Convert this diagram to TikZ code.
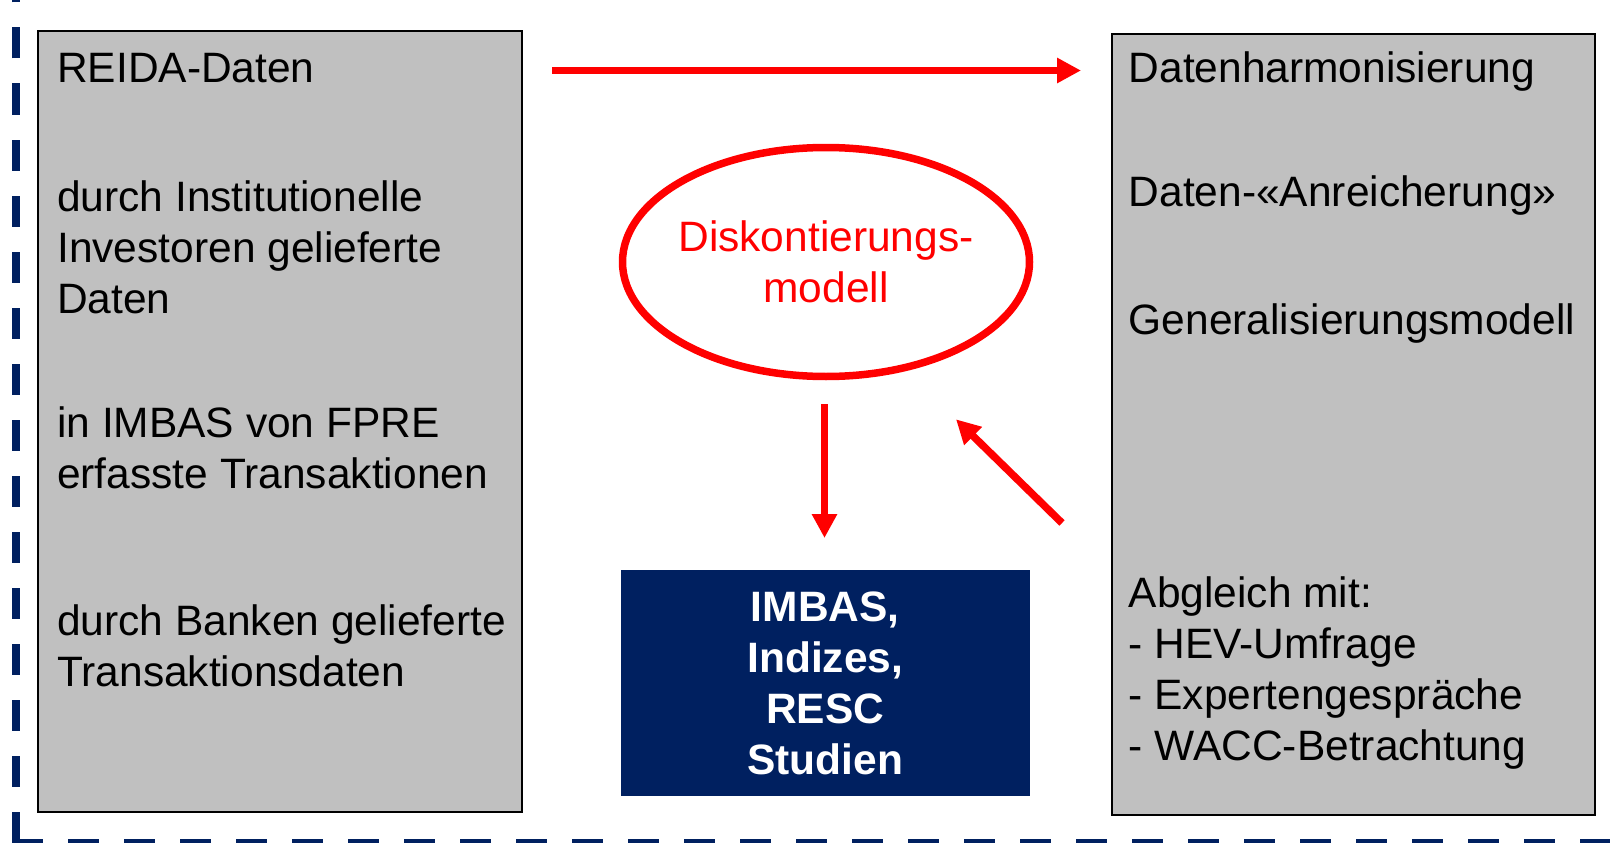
\documentclass[tikz,border=0pt]{standalone}
\usepackage{fontspec}
\setmainfont{Liberation Sans}
\usetikzlibrary{arrows.meta,shapes.geometric}
\definecolor{navy}{HTML}{002060}
\definecolor{silver}{HTML}{C0C0C0}
\tikzset{
  greybox/.style={draw=black, line width=2pt, fill=silver, inner sep=0pt,
    minimum width=483.5pt, minimum height=781pt},
  txt/.style={anchor=base west, inner sep=0pt, font=\fontsize{42.5}{51}\selectfont},
  redarrow/.style={draw=red, line width=7.5pt, -{Triangle[length=24pt,width=24pt]}},
  frame/.style={draw=navy, line width=8pt, dash pattern=on 31pt off 25pt},
}
\begin{document}
\begin{tikzpicture}[x=1pt,y=-1pt]
\useasboundingbox (0,0) rectangle (1610,843);
% dashed frame
\coordinate (corner) at (16,842.5);
\draw[frame] (corner) -- (16,-40);
\draw[frame] (12,842.5) -- (1660,842.5);
% boxes
\node[greybox] (lbox) at (279.75,421.5) {};
\node[greybox] (rbox) at (1353.25,424.5) {};
\node[fill=navy, text=white, inner sep=0pt, align=center,
  minimum width=408.5pt, minimum height=226pt,
  font=\bfseries\fontsize{42.5}{51}\selectfont] (imbas) at (825.25,683) {IMBAS,\\Indizes,\\RESC\\Studien};
\node[ellipse, draw=red, line width=7.5pt, text=red, align=center,
  minimum width=407pt, minimum height=229pt, inner xsep=-10pt, inner ysep=0pt,
  font=\fontsize{42.5}{51}\selectfont] (disc) at (826,262) {Diskontierungs-\\modell};
% left texts
\node[txt] (reida) at (57,83) {REIDA-Daten};
\node[txt] (inst1) at (57,211) {durch Institutionelle};
\node[txt] (inst2) at (57,262) {Investoren gelieferte};
\node[txt] (inst3) at (57,313) {Daten};
\node[txt] (fpre1) at (57,437) {in IMBAS von FPRE};
\node[txt] (fpre2) at (57,488) {erfasste Transaktionen};
\node[txt] (bank1) at (57,635) {durch Banken gelieferte};
\node[txt] (bank2) at (57,686) {Transaktionsdaten};
% right texts
\node[txt] (harm) at (1128.5,83) {Datenharmonisierung};
\node[txt] (anr) at (1128.5,206) {Daten-«Anreicherung»};
\node[txt] (gen) at (1128.5,334) {Generalisierungsmodell};
\node[txt] (abgl) at (1128.5,607) {Abgleich mit:};
\node[txt] (hev) at (1128.5,658) {- HEV-Umfrage};
\node[txt] (expg) at (1128.5,709) {- Expertengespräche};
\node[txt] (wacc) at (1128.5,760) {- WACC-Betrachtung};
% arrows
\coordinate (topS) at (552,70.5);
\coordinate (topE) at (1081,70.5);
\coordinate (downS) at (824.5,404);
\coordinate (downE) at (824.5,538);
\coordinate (diagS) at (1062,523);
\coordinate (diagE) at (956,419.3);
\draw[redarrow] (topS) -- (topE);
\draw[redarrow] (downS) -- (downE);
\draw[redarrow] (diagS) -- (diagE);
\end{tikzpicture}
\end{document}
